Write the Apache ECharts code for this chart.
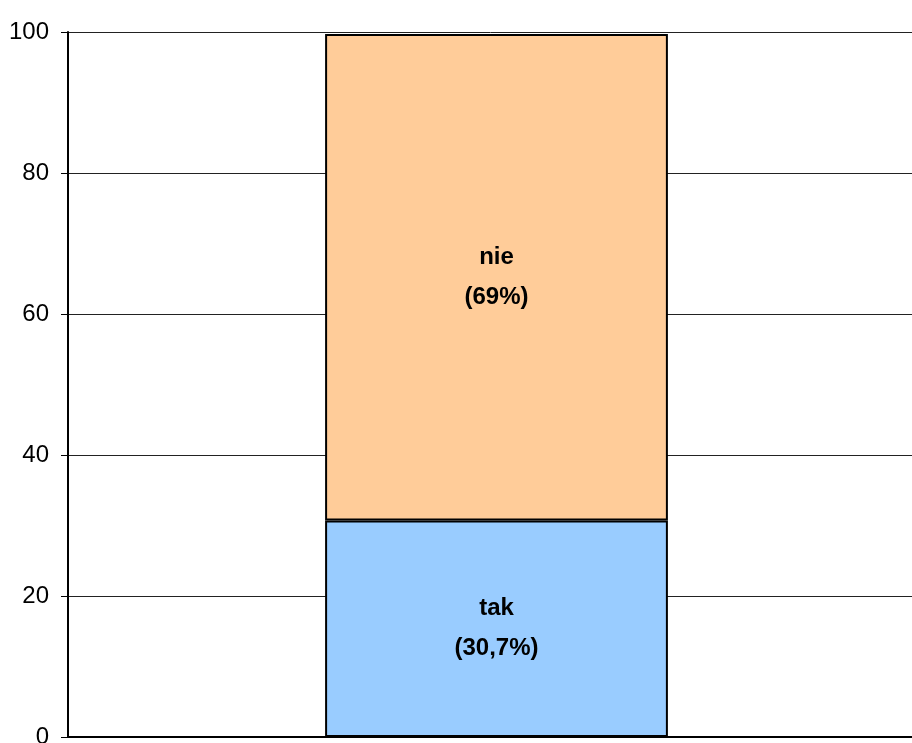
<!DOCTYPE html>
<html>
<head>
<meta charset="utf-8">
<script src="https://cdn.jsdelivr.net/npm/echarts@6/dist/echarts.min.js"></script>
<style>
html,body{margin:0;padding:0;background:#fff;}
#chart{width:912px;height:743px;}
</style>
</head>
<body>
<div id="chart"></div>
<script>
var categories = [''];
var takValues = [30.7];
var nieValues = [69];
var takLabel = 'tak\n(30,7%)';
var nieLabel = 'nie\n(69%)';
var yTicks = [0, 20, 40, 60, 80, 100];

var chart = echarts.init(document.getElementById('chart'), null, {renderer: 'canvas'});
var labelStyle = {
  show: true,
  position: 'inside',
  color: '#000',
  fontFamily: 'Liberation Sans, Arial, sans-serif',
  fontWeight: 'bold',
  fontSize: 24,
  lineHeight: 40
};
chart.setOption({
  animation: false,
  grid: {left: 68, top: 32, width: 857, height: 705, containLabel: false, outerBoundsMode: 'none'},
  xAxis: {
    type: 'category',
    data: categories,
    axisLine: {show: true, lineStyle: {color: '#000', width: 2}},
    axisTick: {show: false},
    axisLabel: {show: false},
    splitLine: {show: false}
  },
  yAxis: {
    type: 'value',
    min: yTicks[0],
    max: yTicks[yTicks.length - 1],
    interval: 20,
    axisLine: {show: true, lineStyle: {color: '#000', width: 2}},
    axisTick: {show: true, length: 7, lineStyle: {color: '#000', width: 1}},
    axisLabel: {
      color: '#000',
      fontFamily: 'Liberation Sans, Arial, sans-serif',
      fontSize: 24,
      margin: 19
    },
    splitLine: {show: true, lineStyle: {color: '#222', width: 1}}
  },
  series: [
    {
      name: 'tak',
      type: 'bar',
      stack: 'total',
      data: takValues,
      barWidth: '40%',
      itemStyle: {color: '#99CCFF', borderColor: '#000', borderWidth: 2},
      label: Object.assign({}, labelStyle, {formatter: function(){ return takLabel; }})
    },
    {
      name: 'nie',
      type: 'bar',
      stack: 'total',
      data: nieValues,
      barWidth: '40%',
      itemStyle: {color: '#FFCC99', borderColor: '#000', borderWidth: 2},
      label: Object.assign({}, labelStyle, {formatter: function(){ return nieLabel; }})
    }
  ]
});
</script>
</body>
</html>
